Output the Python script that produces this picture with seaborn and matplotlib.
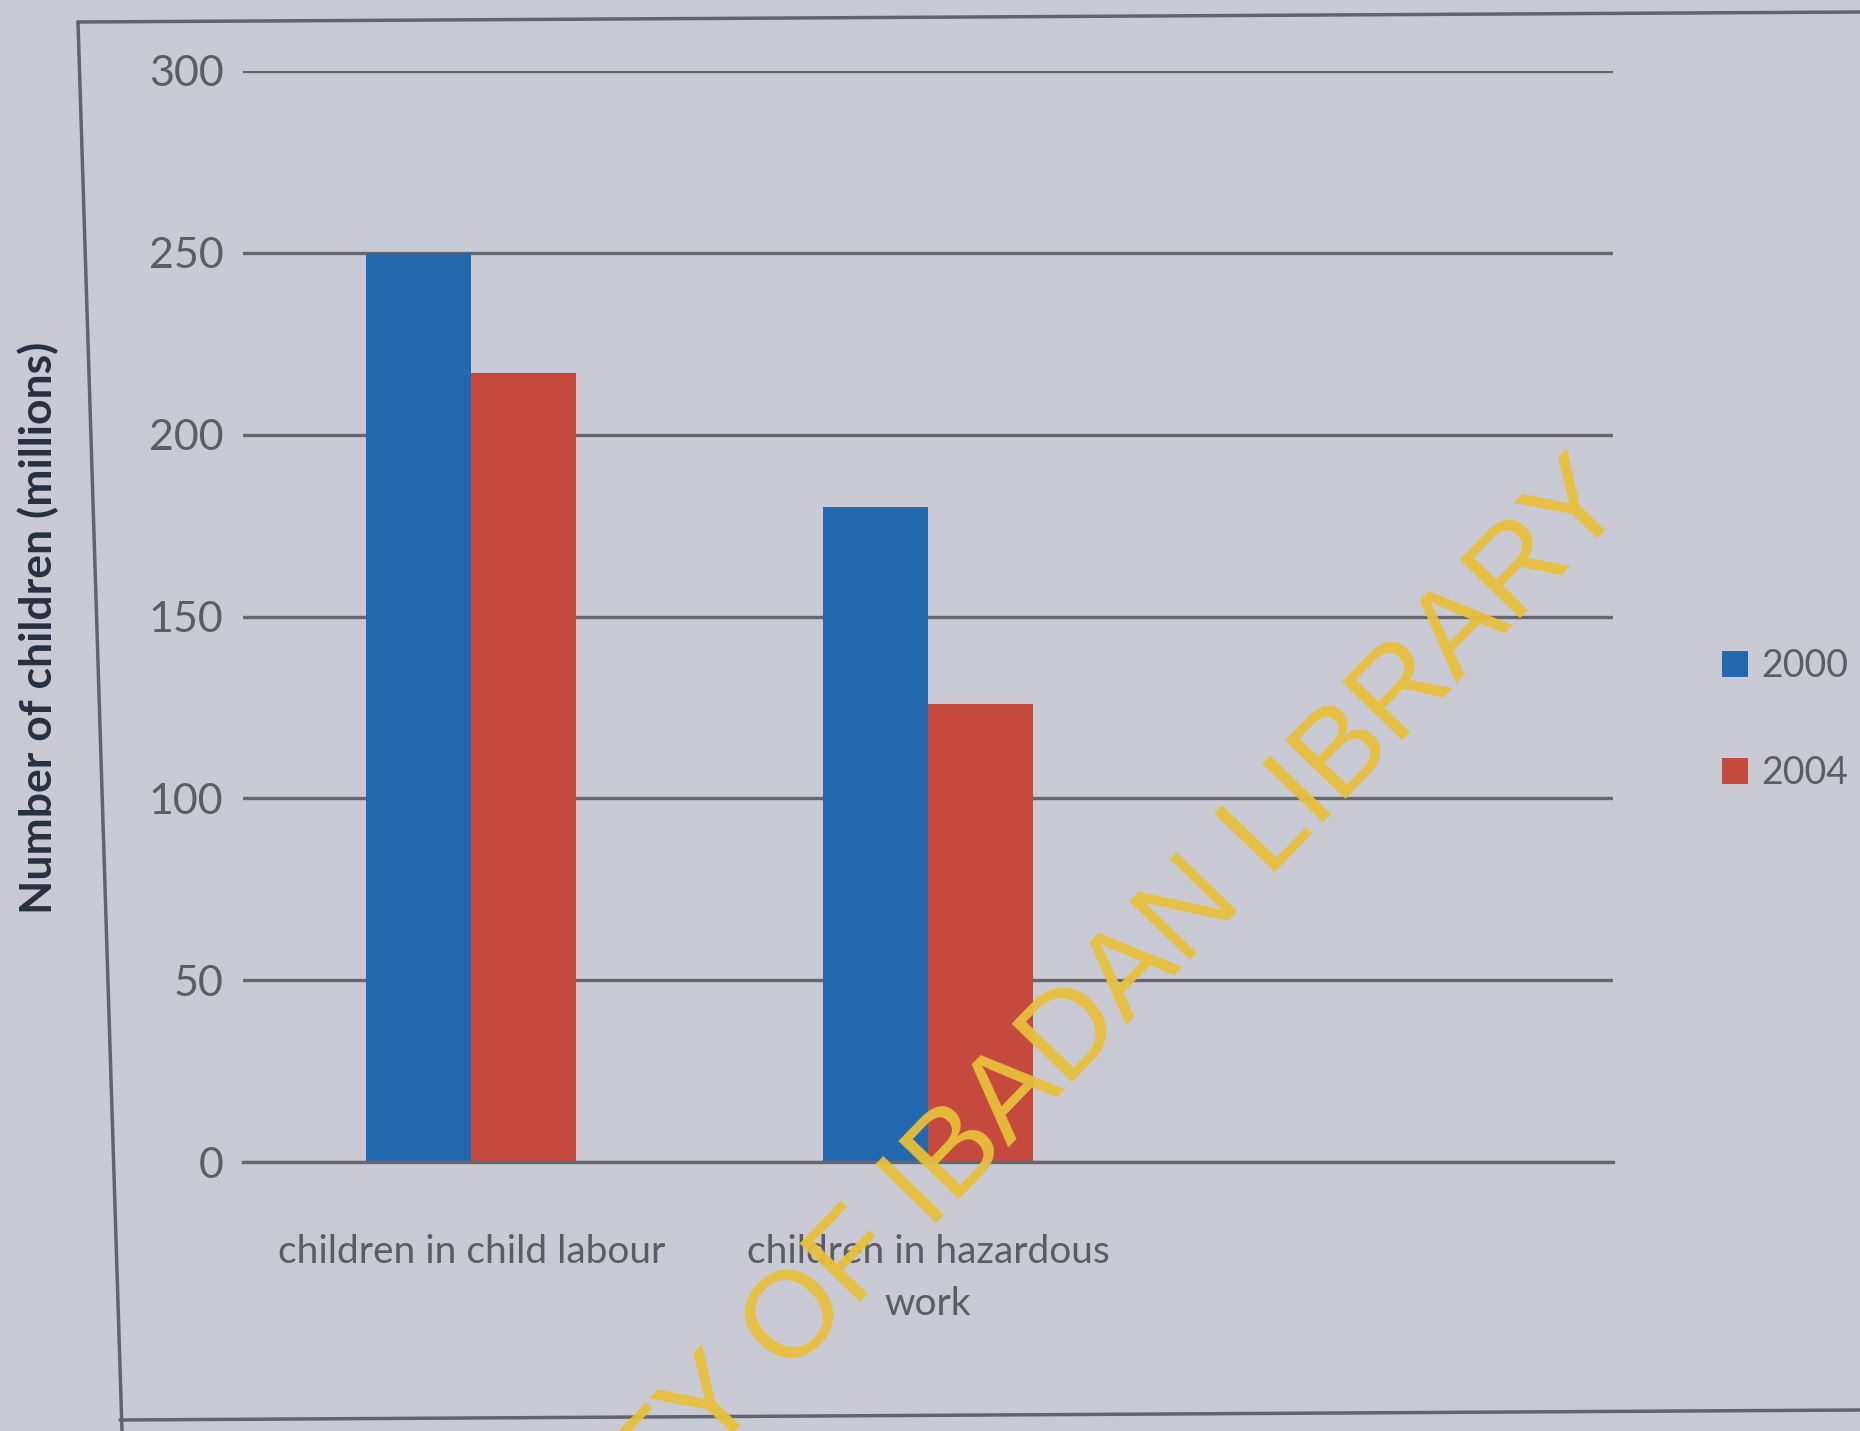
import matplotlib
matplotlib.use("Agg")
import matplotlib.pyplot as plt
import seaborn as sns
import pandas as pd
import numpy as np
from matplotlib.lines import Line2D

categories = ["children in child labour", "children in hazardous\nwork", " "]
years = ["2000", "2004"]
values_2000 = [250, 180]
values_2004 = [217, 126]
yticks = [0, 50, 100, 150, 200, 250, 300]

rows = []
for c, v in zip(categories[:2], values_2000):
    rows.append({"cat": c, "year": "2000", "val": v})
for c, v in zip(categories[:2], values_2004):
    rows.append({"cat": c, "year": "2004", "val": v})
df = pd.DataFrame(rows)

sns.set_theme(style="white")
fam = ["Lato", "DejaVu Sans"]
plt.rcParams["font.family"] = fam

bg = "#cacad4"
txt = "#5c5c64"
fig = plt.figure(figsize=(18.6, 14.31), dpi=100, facecolor=bg)
ax = fig.add_axes([243/1860, 269/1431, (1613-243)/1860, (1162-71)/1431])
ax.set_facecolor(bg)

palette = {"2000": "#2368ae", "2004": "#c5493c"}
sns.barplot(data=df, x="cat", y="val", hue="year", order=categories,
            hue_order=years, palette=palette, width=0.46, gap=0,
            saturation=1, linewidth=0, ax=ax, legend=True)

ax.set_ylim(0, 300)
ax.set_xlim(-0.5, 2.5)
ax.set_yticks(yticks)
ax.set_yticklabels([str(t) for t in yticks])
ax.yaxis.grid(True, color="#66666e", lw=2.4)
ax.set_axisbelow(True)
for s in ["top", "right", "left"]:
    ax.spines[s].set_visible(False)
ax.spines["bottom"].set_color("#66666e")
ax.spines["bottom"].set_linewidth(2.4)

ax.tick_params(axis="y", length=0, pad=14, labelsize=31, labelcolor=txt)
ax.tick_params(axis="x", which="major", length=0, pad=52, labelsize=28,
               labelcolor=txt)
for lab in ax.get_xticklabels():
    lab.set_linespacing(1.55)
ax.set_xticks([-0.5, 0.5, 1.5, 2.5], minor=True)
ax.tick_params(axis="x", which="minor", length=14, width=2, color="#66666e",
               direction="out")
ax.set_xlabel("")
ax.set_ylabel("")
fig.text(38/1860, 1-628/1431, "Number of children (millions)", rotation=90,
         fontsize=32, fontweight="bold", color="#283040", ha="center", va="center")

leg = ax.legend(loc="center left", bbox_to_anchor=(1722/1860, 0.497),
                bbox_transform=fig.transFigure, frameon=False,
                borderaxespad=0, borderpad=0,
                fontsize=27, handlelength=0.7, handleheight=0.7,
                labelspacing=1.9, handletextpad=0.35)
for t in leg.get_texts():
    t.set_color(txt)

# chart frame
fig.add_artist(Line2D([78/1860, 122/1860], [1-22/1431, 0], transform=fig.transFigure,
                      color="#60646c", lw=2.5))
fig.add_artist(Line2D([78/1860, 1], [1-22/1431, 1-12/1431], transform=fig.transFigure,
                      color="#60646c", lw=2.5))
fig.add_artist(Line2D([120/1860, 1], [1-1420/1431, 1-1410/1431], transform=fig.transFigure,
                      color="#60646c", lw=2.5))

# watermark
fig.text(1630/1860, 1-505/1431, "UNIVERSITY OF IBADAN LIBRARY",
         family=["Liberation Sans", "DejaVu Sans"], fontsize=88,
         color="#e8c03c", alpha=0.95, rotation=46, rotation_mode="anchor",
         ha="right", va="baseline")

fig.savefig("out.png", dpi=100, facecolor=bg)
